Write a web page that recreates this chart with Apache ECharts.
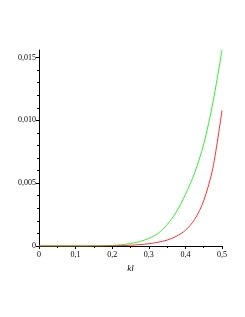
<!DOCTYPE html>
<html><head><meta charset="utf-8">
<script src="https://cdn.jsdelivr.net/npm/echarts@6/dist/echarts.min.js"></script>
<style>html,body{margin:0;padding:0;background:#fff}#c{width:245px;height:317px}</style>
</head><body><div id="c"></div>
<script>
const kl = [0, 0.025, 0.05, 0.075, 0.1, 0.125, 0.15, 0.175, 0.2, 0.225, 0.25, 0.275, 0.3, 0.325, 0.35, 0.375, 0.4, 0.425, 0.45, 0.475, 0.5];
const greenVals = [0, 0, 0, 0, 0, 0, 0.00001, 0.00002, 0.00005, 0.0001, 0.0002, 0.00035, 0.0006, 0.001, 0.0017, 0.0027, 0.0041, 0.0058, 0.0081, 0.0114, 0.0156];
const redVals = [0, 0, 0, 0, 0, 0, 0, 0, 0.00001, 0.00003, 0.00006, 0.00011, 0.00018, 0.0003, 0.00047, 0.00077, 0.00125, 0.0021, 0.0036, 0.0062, 0.0108];
const yTicks = [0, 0.005, 0.01, 0.015];
const fmt = v => v === 0 ? '0' : String(v).replace('.', ',');
const yfmt = v => v === 0 ? '0' : v.toFixed(3).replace('.', ',');
const font = {fontFamily: 'Liberation Serif', fontSize: 8, color: '#000'};
const chart = echarts.init(document.getElementById('c'), null, {renderer: 'canvas'});
chart.setOption({
  animation: false,
  grid: {left: 39, right: 23, top: 50, bottom: 71},
  xAxis: {
    type: 'value', min: 0, max: 0.5, interval: 0.1,
    name: 'kl', nameLocation: 'middle', nameGap: 16,
    nameTextStyle: {fontFamily: 'Liberation Serif', fontSize: 9, fontStyle: 'italic', color: '#000'},
    axisLine: {onZero: false, lineStyle: {color: '#000', width: 1}},
    axisTick: {show: true, length: 3, lineStyle: {color: '#000'}},
    minorTick: {show: true, splitNumber: 2, length: 2, lineStyle: {color: '#000'}},
    axisLabel: Object.assign({formatter: fmt, margin: 5}, font),
    splitLine: {show: false}
  },
  yAxis: {
    type: 'value', min: 0, max: 0.0156, interval: 0.005,
    axisLine: {show: true, onZero: false, lineStyle: {color: '#000', width: 1}},
    axisTick: {show: true, length: 3, lineStyle: {color: '#000'}, customValues: yTicks},
    minorTick: {show: true, splitNumber: 5, length: 2, lineStyle: {color: '#000'}},
    axisLabel: Object.assign({formatter: yfmt, margin: 3, customValues: yTicks}, font),
    splitLine: {show: false}
  },
  series: [
    {type: 'line', data: kl.map((x, i) => [x, greenVals[i]]), smooth: 0.3, showSymbol: false, lineStyle: {color: '#33ee33', width: 1}, z: 2},
    {type: 'line', data: kl.map((x, i) => [x, redVals[i]]), smooth: 0.3, showSymbol: false, lineStyle: {color: '#ff3030', width: 1}, z: 3}
  ]
});
</script></body></html>
